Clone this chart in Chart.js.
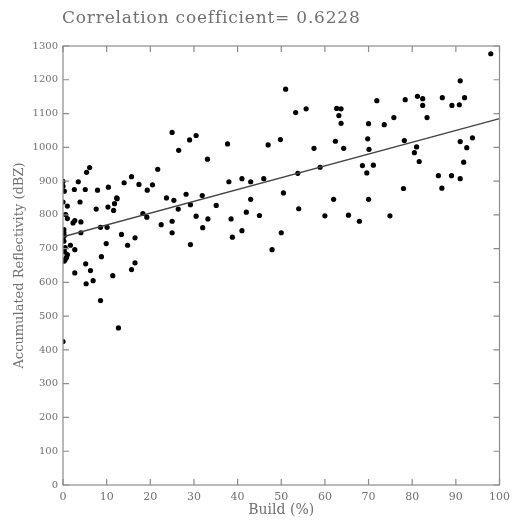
<!DOCTYPE html>
<html>
<head>
<meta charset="utf-8">
<script src="https://cdn.jsdelivr.net/npm/chart.js@4/dist/chart.umd.min.js"></script>
<style>
  html, body { margin: 0; padding: 0; background: #fff; }
  #wrap { position: relative; width: 516px; height: 521px; }
</style>
</head>
<body>
<div id="wrap"><canvas id="scatter"></canvas></div>
<script>
/* ── Build (%) vs accumulated reflectivity, with fitted line ── */

const titleText = 'Correlation coefficient= 0.6228';
const xTitle    = 'Build (%)';
const yTitle    = 'Accumulated Reflectivity (dBZ)';

const xTicks = [0, 10, 20, 30, 40, 50, 60, 70, 80, 90, 100];
const yTicks = [0, 100, 200, 300, 400, 500, 600, 700, 800, 900, 1000, 1100, 1200, 1300];

// scatter points
const buildPct = [
  0, 0, 0.3, 0, 1, 0.6, 1, 0.2, 0.2, 0.3, 0, 0.2, 0.5, 1, 0.8, 0.5, 0.3, 0, 1.7, 0.4,
  2.7, 2.7, 5.2, 6.3, 5.3, 6.9, 8.8, 8.6, 11.4, 12.7, 2.3, 2.7, 4.1, 4.1, 3.9, 7.6, 10.3, 11.6, 11.8, 12.4,
  8.6, 10.1, 9.9, 13.4, 14.8, 16.5, 16.5, 15.7, 18.3, 19.2, 22.5, 25, 25, 23.7, 25.4, 26.4, 29.2, 29.2, 30.5, 32,
  31.9, 35.1, 38.5, 38.8, 41, 42, 45, 47.9, 50, 43, 33.2, 54, 62, 60, 65.4, 70, 67.9, 74.9,
  51, 53.3, 55.7, 62.7, 63.7, 63.2, 63.7, 37.7, 33.1, 47, 49.8, 62.4, 57.5, 64.3, 38, 41, 43, 46, 53.8, 58.9, 50.5,
  98, 91, 71.9, 78.4, 81.2, 82.4, 82.4, 86.9, 89.1, 90.8, 92, 70, 73.6, 75.8, 83.4, 69.8, 70.1, 78.2, 81, 80.5,
  81.6, 91, 92.5, 93.8, 91.8, 68.6, 71.1, 69.6, 78, 86, 86.8, 89, 91,
  25, 26.5, 29, 30.5, 21.7, 5.4, 6.1, 3.5, 15.7, 14, 17.4, 20.5, 19.3, 10.4, 7.9, 5.1, 2.6, 12.3, 28.2
];
const reflectivity = [
  899, 885, 870, 838, 826, 801, 789, 756, 747, 738, 730, 722, 703, 682, 674, 668, 663, 425, 710, 690,
  697, 628, 655, 635, 596, 605, 676, 546, 620, 465, 776, 783, 779, 747, 838, 817, 823, 813, 833, 848,
  763, 763, 715, 742, 710, 732, 658, 638, 804, 793, 771, 781, 747, 850, 843, 817, 830, 712, 796, 762,
  857, 828, 788, 734, 753, 808, 798, 697, 747, 846, 788, 818, 846, 797, 799, 846, 781, 797,
  1172, 1103, 1114, 1115, 1114, 1094, 1071, 1010, 965, 1007, 1023, 1018, 997, 997, 898, 907, 898, 907, 923, 941, 865,
  1277, 1197, 1138, 1141, 1151, 1144, 1124, 1147, 1124, 1126, 1147, 1070, 1067, 1088, 1088, 1025, 994, 1020, 1001, 984,
  958, 1017, 999, 1028, 956, 946, 947, 924, 878, 916, 879, 916, 907,
  1044, 991, 1022, 1035, 935, 926, 940, 898, 913, 895, 890, 889, 873, 882, 873, 875, 875, 850, 861
];

// regression line end points
const fitX = [0, 100];
const fitY = [735, 1085];

const AXIS_CLR = '#8c8c8c';
const TEXT_CLR = '#707070';
const FONT     = "'DejaVu Serif', serif";

// frame + inward ticks on all four sides, title on top
const frameTicks = {
  id: 'frameTicks',
  afterDraw(chart) {
    const { ctx, chartArea: a, scales: { x, y } } = chart;
    const len = 6;
    ctx.save();
    ctx.strokeStyle = AXIS_CLR;
    ctx.lineWidth = 1.2;
    ctx.strokeRect(a.left, a.top, a.right - a.left, a.bottom - a.top);
    ctx.beginPath();
    xTicks.forEach(v => {
      const px = x.getPixelForValue(v);
      ctx.moveTo(px, a.bottom); ctx.lineTo(px, a.bottom - len);
      ctx.moveTo(px, a.top);    ctx.lineTo(px, a.top + len);
    });
    yTicks.forEach(v => {
      const py = y.getPixelForValue(v);
      ctx.moveTo(a.left, py);  ctx.lineTo(a.left + len, py);
      ctx.moveTo(a.right, py); ctx.lineTo(a.right - len, py);
    });
    ctx.stroke();

    ctx.fillStyle = TEXT_CLR;
    ctx.font = '17px ' + FONT;
    ctx.letterSpacing = '0.8px';
    ctx.textBaseline = 'middle';
    ctx.textAlign = 'left';
    ctx.fillText(titleText, 62, 19);
    ctx.restore();
  }
};

new Chart(document.getElementById('scatter'), {
  type: 'scatter',
  data: {
    datasets: [
      {
        label: 'points',
        data: buildPct.map((b, i) => ({ x: b, y: reflectivity[i] })),
        pointRadius: 2.6,
        pointBackgroundColor: '#000',
        pointBorderWidth: 0,
        order: 2,
      },
      {
        type: 'line',
        label: 'fit',
        data: fitX.map((b, i) => ({ x: b, y: fitY[i] })),
        borderColor: '#444',
        borderWidth: 1.4,
        pointRadius: 0,
        fill: false,
        order: 1,
      },
    ]
  },
  options: {
    responsive: true,
    maintainAspectRatio: false,
    animation: false,
    layout: { padding: { top: 46, right: 12, left: 0, bottom: 0 } },
    plugins: {
      legend: { display: false },
      tooltip: { enabled: false },
    },
    scales: {
      x: {
        type: 'linear',
        min: 0, max: 100,
        afterBuildTicks: s => { s.ticks = xTicks.map(v => ({ value: v })); },
        afterFit: s => { s.height = 36; },
        grid: { display: false, drawTicks: false },
        border: { display: false },
        ticks: { color: TEXT_CLR, font: { family: FONT, size: 11 }, padding: 6, maxRotation: 0, callback: v => String(v) },
        title: { display: true, text: xTitle, color: TEXT_CLR, font: { family: FONT, size: 14 }, padding: { top: 0, bottom: 2 } },
      },
      y: {
        type: 'linear',
        min: 0, max: 1300,
        afterBuildTicks: s => { s.ticks = yTicks.map(v => ({ value: v })); },
        afterFit: s => { s.width = 63; },
        grid: { display: false, drawTicks: false },
        border: { display: false },
        ticks: { color: TEXT_CLR, font: { family: FONT, size: 10 }, padding: 5, callback: v => String(v) },
        title: { display: true, text: yTitle, color: TEXT_CLR, font: { family: FONT, size: 13 }, padding: { top: 12, bottom: 0 } },
      },
    }
  },
  plugins: [frameTicks]
});
</script>
</body>
</html>
